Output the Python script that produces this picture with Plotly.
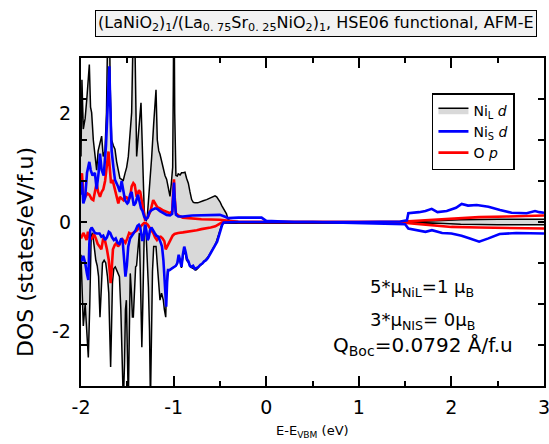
import plotly.graph_objects as go

# ---------------- data ----------------
# Ni_L d, spin up
e_nil_up = [-2.0, -1.99, -1.975, -1.955, -1.935, -1.91, -1.897, -1.885, -1.867, -1.85, -1.831, -1.815, -1.795, -1.777, -1.76, -1.741, -1.725, -1.712, -1.703, -1.694, -1.685, -1.669, -1.651, -1.633, -1.615, -1.597, -1.58, -1.561, -1.545, -1.525, -1.507, -1.489, -1.47, -1.453, -1.44, -1.428, -1.415, -1.399, -1.385, -1.374, -1.362, -1.352, -1.34, -1.327, -1.318, -1.309, -1.295, -1.284, -1.26, -1.237, -1.215, -1.2, -1.19, -1.176, -1.16, -1.147, -1.13, -1.111, -1.093, -1.075, -1.057, -1.039, -1.025, -1.01, -1.003, -0.996, -0.988, -0.975, -0.96, -0.95, -0.93, -0.914, -0.895, -0.877, -0.86, -0.841, -0.823, -0.805, -0.787, -0.769, -0.74, -0.715, -0.68, -0.643, -0.607, -0.571, -0.553, -0.535, -0.517, -0.499, -0.48, -0.466, -0.447, -0.429, -0.412, -0.39, -0.3, 0.0, 1.5, 1.8, 2.1, 2.5, 3.0]
nil_up = [1.2, 2.6, 1.7, 1.9, 2.3, 2.88, 2.1, 2.0, 1.5, 1.2, 0.95, 1.3, 1.45, 1.57, 1.2, 1.3, 2.0, 3.5, 4.5, 4.0, 2.5, 1.5, 1.4, 1.33, 1.1, 0.9, 0.8, 0.78, 0.75, 0.89, 1.0, 1.2, 1.6, 2.0, 3.2, 4.5, 3.0, 1.2, 1.5, 1.8, 2.05, 2.18, 1.5, 0.6, 0.25, 0.05, 0.03, 0.1, 0.6, 1.18, 1.8, 2.3, 2.42, 1.5, 1.3, 1.24, 1.1, 0.96, 0.85, 0.78, 0.6, 0.47, 0.7, 1.0, 2.5, 4.5, 2.0, 0.85, 0.84, 0.88, 0.86, 0.9, 0.9, 0.91, 0.8, 0.71, 0.55, 0.41, 0.36, 0.35, 0.35, 0.37, 0.39, 0.41, 0.44, 0.47, 0.48, 0.46, 0.42, 0.37, 0.3, 0.25, 0.2, 0.15, 0.05, 0.02, 0.01, 0.0, 0.0, 0.02, 0.04, 0.05, 0.05]

# Ni_L d, spin down
e_nil_dn = [-2.0, -1.99, -1.975, -1.955, -1.94, -1.921, -1.905, -1.89, -1.875, -1.86, -1.84, -1.825, -1.81, -1.8, -1.795, -1.78, -1.768, -1.75, -1.733, -1.714, -1.7, -1.69, -1.68, -1.67, -1.66, -1.645, -1.63, -1.615, -1.6, -1.585, -1.57, -1.555, -1.543, -1.53, -1.52, -1.51, -1.5, -1.489, -1.478, -1.468, -1.455, -1.445, -1.435, -1.42, -1.41, -1.4, -1.385, -1.37, -1.36, -1.35, -1.343, -1.335, -1.325, -1.315, -1.3, -1.285, -1.272, -1.26, -1.25, -1.24, -1.228, -1.215, -1.19, -1.175, -1.16, -1.147, -1.13, -1.111, -1.1, -1.093, -1.085, -1.077, -1.065, -1.045, -1.03, -1.02, -1.005, -0.99, -0.975, -0.96, -0.945, -0.93, -0.915, -0.9, -0.88, -0.86, -0.84, -0.82, -0.8, -0.78, -0.76, -0.74, -0.72, -0.7, -0.68, -0.66, -0.64, -0.62, -0.6, -0.58, -0.56, -0.54, -0.52, -0.5, -0.48, -0.46, -0.3, 0.0, 1.5, 1.8, 2.1, 2.5, 3.0]
nil_dn = [-0.6, -1.2, -1.9, -1.5, -2.0, -2.48, -1.5, -0.25, -0.2, -0.45, -0.7, -0.8, -1.0, -1.5, -1.74, -1.2, -0.75, -0.7, -0.75, -1.0, -1.3, -2.0, -2.65, -1.9, -1.1, -0.85, -0.82, -0.88, -0.94, -1.0, -1.6, -2.6, -3.3, -2.6, -1.6, -1.43, -2.2, -3.3, -2.0, -0.94, -1.3, -1.74, -1.74, -1.1, -0.82, -0.8, -0.45, -0.2, -0.9, -1.9, -2.29, -1.7, -0.6, -0.05, -0.1, -0.7, -1.19, -2.0, -3.3, -2.2, -0.9, -0.45, -0.45, -0.8, -1.2, -1.43, -1.3, -1.43, -1.6, -1.74, -1.74, -1.2, -0.9, -0.88, -0.86, -0.84, -0.83, -0.82, -0.8, -0.76, -0.65, -0.72, -0.84, -0.64, -0.5, -0.7, -0.74, -0.82, -0.84, -0.87, -0.88, -0.85, -0.8, -0.78, -0.74, -0.72, -0.68, -0.62, -0.56, -0.51, -0.44, -0.37, -0.26, -0.13, -0.05, -0.01, 0.0, 0.0, 0.0, -0.02, -0.04, -0.05, -0.05]

# Ni_S d, spin up
e_nis_up = [-2.0, -1.99, -1.975, -1.955, -1.935, -1.91, -1.895, -1.875, -1.85, -1.831, -1.81, -1.795, -1.777, -1.755, -1.73, -1.712, -1.703, -1.694, -1.685, -1.669, -1.65, -1.633, -1.6, -1.58, -1.561, -1.545, -1.525, -1.5, -1.489, -1.47, -1.453, -1.43, -1.41, -1.385, -1.37, -1.352, -1.335, -1.318, -1.3, -1.28, -1.26, -1.237, -1.2, -1.176, -1.147, -1.111, -1.075, -1.039, -1.015, -1.003, -0.996, -0.988, -0.975, -0.95, -0.9, -0.8, -0.7, -0.6, -0.5, -0.45, -0.41, -0.3, -0.2, -0.05, 0.0, 0.3, 1.0, 1.45, 1.52, 1.535, 1.65, 1.72, 1.787, 1.85, 1.95, 2.05, 2.111, 2.18, 2.273, 2.4, 2.525, 2.65, 2.813, 2.903, 2.95, 3.0]
nis_up = [0.5, 0.75, 0.34, 0.45, 0.9, 1.1, 0.95, 0.85, 0.9, 0.6, 0.9, 1.25, 0.95, 0.85, 1.4, 2.2, 2.7, 2.85, 2.2, 1.3, 1.0, 0.77, 0.65, 0.55, 0.75, 0.6, 0.4, 0.34, 0.36, 0.5, 0.55, 0.3, 0.35, 0.5, 0.4, 0.25, 0.2, 0.1, 0.05, 0.08, 0.18, 0.22, 0.25, 0.24, 0.2, 0.16, 0.13, 0.12, 0.15, 0.5, 0.72, 0.4, 0.13, 0.1, 0.1, 0.12, 0.12, 0.13, 0.13, 0.1, 0.07, 0.08, 0.08, 0.08, 0.02, 0.0, 0.0, 0.01, 0.03, 0.16, 0.18, 0.2, 0.24, 0.18, 0.2, 0.26, 0.33, 0.3, 0.31, 0.28, 0.22, 0.17, 0.16, 0.2, 0.18, 0.17]

# Ni_S d, spin down
e_nis_dn = [-2.0, -1.99, -1.975, -1.955, -1.935, -1.921, -1.91, -1.9, -1.885, -1.867, -1.85, -1.83, -1.8, -1.78, -1.76, -1.74, -1.72, -1.7, -1.685, -1.665, -1.645, -1.625, -1.605, -1.585, -1.565, -1.55, -1.535, -1.52, -1.505, -1.49, -1.47, -1.45, -1.43, -1.41, -1.39, -1.375, -1.36, -1.35, -1.34, -1.33, -1.315, -1.305, -1.295, -1.28, -1.27, -1.255, -1.24, -1.225, -1.205, -1.185, -1.165, -1.145, -1.125, -1.11, -1.1, -1.09, -1.08, -1.07, -1.06, -1.045, -1.025, -1.005, -0.99, -0.975, -0.96, -0.945, -0.93, -0.915, -0.9, -0.885, -0.87, -0.855, -0.84, -0.825, -0.81, -0.79, -0.77, -0.75, -0.73, -0.71, -0.69, -0.67, -0.65, -0.63, -0.61, -0.59, -0.57, -0.55, -0.53, -0.51, -0.49, -0.475, -0.46, -0.3, 0.5, 1.0, 1.4, 1.5, 1.535, 1.65, 1.72, 1.79, 1.9, 2.0, 2.11, 2.2, 2.3, 2.4, 2.52, 2.7, 2.85, 3.0]
nis_dn = [-0.7, -0.7, -0.62, -0.75, -0.95, -1.06, -0.4, -0.15, -0.1, -0.15, -0.2, -0.21, -0.21, -0.27, -0.25, -0.33, -0.28, -0.18, -0.2, -0.28, -0.33, -0.3, -0.38, -0.4, -0.3, -0.35, -0.7, -1.0, -0.8, -0.45, -0.3, -0.25, -0.2, -0.15, -0.07, -0.05, -0.1, -0.2, -0.33, -0.33, -0.1, -0.05, -0.15, -0.33, -0.3, -0.15, -0.1, -0.15, -0.2, -0.25, -0.27, -0.35, -0.45, -0.7, -0.95, -1.3, -1.55, -1.1, -0.88, -0.88, -0.86, -0.84, -0.82, -0.8, -0.75, -0.6, -0.7, -0.82, -0.6, -0.45, -0.55, -0.68, -0.72, -0.8, -0.82, -0.8, -0.86, -0.84, -0.82, -0.78, -0.76, -0.72, -0.7, -0.66, -0.6, -0.55, -0.5, -0.43, -0.36, -0.25, -0.12, -0.05, -0.01, 0.0, 0.0, -0.02, -0.03, -0.04, -0.12, -0.15, -0.18, -0.15, -0.2, -0.21, -0.25, -0.3, -0.36, -0.3, -0.22, -0.2, -0.2, -0.21]

# O p, spin up
e_op_up = [-2.0, -1.99, -1.975, -1.955, -1.93, -1.91, -1.885, -1.867, -1.85, -1.831, -1.815, -1.795, -1.777, -1.759, -1.74, -1.723, -1.712, -1.703, -1.69, -1.676, -1.659, -1.641, -1.615, -1.597, -1.579, -1.561, -1.543, -1.525, -1.507, -1.489, -1.47, -1.453, -1.435, -1.42, -1.399, -1.374, -1.36, -1.345, -1.327, -1.309, -1.28, -1.25, -1.22, -1.2, -1.176, -1.147, -1.111, -1.039, -1.015, -1.003, -0.996, -0.988, -0.975, -0.95, -0.9, -0.7, -0.5, -0.4, -0.3, 1.4, 1.6, 1.8, 2.0, 2.3, 2.6, 3.0]
op_up = [0.85, 0.89, 0.5, 0.46, 0.52, 0.5, 0.42, 0.4, 0.55, 0.71, 0.55, 0.46, 0.55, 0.6, 0.75, 1.0, 1.26, 1.29, 1.0, 0.71, 0.77, 0.65, 0.45, 0.34, 0.46, 0.42, 0.4, 0.46, 0.45, 0.4, 0.45, 0.65, 0.71, 0.68, 0.46, 0.58, 0.55, 0.4, 0.22, 0.05, 0.08, 0.2, 0.4, 0.33, 0.27, 0.25, 0.21, 0.16, 0.2, 0.6, 0.78, 0.45, 0.16, 0.12, 0.08, 0.05, 0.04, 0.02, 0.0, 0.0, 0.02, 0.05, 0.07, 0.09, 0.1, 0.12]

# O p, spin down
e_op_dn = [-2.0, -1.99, -1.975, -1.96, -1.94, -1.925, -1.905, -1.88, -1.86, -1.84, -1.82, -1.8, -1.78, -1.76, -1.74, -1.72, -1.7, -1.69, -1.68, -1.67, -1.655, -1.635, -1.615, -1.6, -1.58, -1.56, -1.54, -1.52, -1.5, -1.48, -1.46, -1.44, -1.42, -1.4, -1.38, -1.36, -1.34, -1.32, -1.3, -1.28, -1.26, -1.24, -1.22, -1.2, -1.18, -1.16, -1.14, -1.12, -1.1, -1.085, -1.07, -1.05, -1.03, -1.01, -0.99, -0.95, -0.9, -0.85, -0.8, -0.75, -0.7, -0.65, -0.6, -0.55, -0.5, -0.48, -0.4, 1.4, 1.6, 1.8, 2.0, 2.3, 2.6, 3.0]
op_dn = [-0.3, -0.27, -0.2, -0.25, -0.33, -0.18, -0.3, -0.3, -0.22, -0.3, -0.4, -0.45, -0.5, -0.3, -0.35, -0.5, -0.7, -0.9, -1.12, -0.9, -0.5, -0.42, -0.38, -0.45, -0.4, -0.3, -0.35, -0.38, -0.3, -0.2, -0.22, -0.2, -0.18, -0.16, -0.12, -0.08, -0.05, -0.02, -0.02, -0.05, -0.1, -0.15, -0.2, -0.28, -0.33, -0.28, -0.27, -0.3, -0.35, -0.5, -0.45, -0.38, -0.32, -0.25, -0.22, -0.2, -0.19, -0.18, -0.17, -0.15, -0.13, -0.12, -0.1, -0.08, -0.04, -0.01, 0.0, 0.0, -0.03, -0.06, -0.09, -0.1, -0.11, -0.12]

x_range = [-2, 3]
y_range = [-3, 3]
x_tick_vals = [-2, -1, 0, 1, 2, 3]
x_tick_text = ["-2", "-1", "0", "1", "2", "3"]
y_label_vals = [-2, 0, 2]
y_label_text = ["-2", "0", "2"]
y_tick_vals = [-2.25, -1.5, -0.75, 0, 0.75, 1.5, 2.25]

FONT = "DejaVu Sans"
GRAY = "#d9d9d9"

fig = go.Figure()
common = dict(mode="lines", fill="tozeroy", fillcolor=GRAY, line=dict(color="black", width=1.5))
fig.add_trace(go.Scatter(x=e_nil_up, y=nil_up, name="Ni<sub>L</sub> <i>d</i>", legendrank=1, **common))
fig.add_trace(go.Scatter(x=e_nil_dn, y=nil_dn, showlegend=False, **common))
fig.add_trace(go.Scatter(x=e_op_up, y=op_up, mode="lines", line=dict(color="#ff0000", width=2.6),
                         name="O <i>p</i>", legendrank=3))
fig.add_trace(go.Scatter(x=e_op_dn, y=op_dn, mode="lines", line=dict(color="#ff0000", width=2.6), showlegend=False))
fig.add_trace(go.Scatter(x=e_nis_up, y=nis_up, mode="lines", line=dict(color="#0000ff", width=2.6),
                         name="Ni<sub>S</sub> <i>d</i>", legendrank=2))
fig.add_trace(go.Scatter(x=e_nis_dn, y=nis_dn, mode="lines", line=dict(color="#0000ff", width=2.6), showlegend=False))

fig.update_layout(
    width=549, height=444,
    margin=dict(l=81, r=5, t=58, b=58, autoexpand=False),
    paper_bgcolor="white", plot_bgcolor="white",
    font=dict(family=FONT, color="black"),
    xaxis=dict(range=x_range, tickvals=x_tick_vals, ticktext=x_tick_text, ticks="inside", ticklen=10,
               tickwidth=2, tickcolor="black", showline=True, linecolor="black", linewidth=2, mirror="ticks",
               showgrid=False, zeroline=False, tickfont=dict(size=19), ticklabelstandoff=3,
               ticklabeloverflow="allow",
               minor=dict(dtick=0.5, tick0=0, ticks="inside", ticklen=5, tickwidth=2, tickcolor="black")),
    yaxis=dict(range=y_range, tickvals=y_tick_vals, showticklabels=False, ticks="inside", ticklen=6,
               tickwidth=2, tickcolor="black", showline=True, linecolor="black", linewidth=2,
               mirror="ticks", showgrid=False, zeroline=True, zerolinecolor="black", zerolinewidth=2.5),
    legend=dict(x=0.758, y=0.893, xanchor="left", yanchor="top", bgcolor="white",
                bordercolor="black", borderwidth=1.5, font=dict(size=14), tracegroupgap=0,
                itemwidth=30),
    showlegend=True,
)

# y tick labels (only at -2, 0, 2)
for v, t in zip(y_label_vals, y_label_text):
    fig.add_annotation(text=t, xref="paper", yref="y", x=0, y=v, xanchor="right", yanchor="middle",
                       xshift=-8, showarrow=False, font=dict(size=19))

ann = dict(xref="paper", yref="paper", showarrow=False, xanchor="center", yanchor="middle")
fig.add_annotation(text="(LaNiO<sub>2</sub>)<sub>1</sub>/(La<sub>0. 75</sub>Sr<sub>0. 25</sub>NiO<sub>2</sub>)<sub>1</sub>, HSE06 functional, AFM-E",
                   x=0.5065, y=1.104, font=dict(size=16), bgcolor="#f2f2f2", bordercolor="black",
                   borderwidth=1, borderpad=2, **ann)
fig.add_annotation(text="DOS (states/eV/f.u)", textangle=-90, x=-0.121, y=0.4085, font=dict(size=22), **ann)
fig.add_annotation(text="E-E<sub>VBM</sub> (eV)", x=0.501, y=-0.140, font=dict(size=13), **ann)
fig.add_annotation(text="5*μ<sub>NiL</sub>=1 μ<sub>B</sub>", x=0.737, y=0.299, font=dict(size=18), **ann)
fig.add_annotation(text="3*μ<sub>NIS</sub>= 0μ<sub>B</sub>", x=0.737, y=0.198, font=dict(size=18), **ann)
fig.add_annotation(text="Q<sub>Boc</sub>=0.0792 Å/f.u", x=0.739, y=0.122, font=dict(size=20), **ann)

fig.write_html("out.html", config={"displayModeBar": False},
               post_script="document.body.style.margin='0';document.body.style.overflow='hidden';")
